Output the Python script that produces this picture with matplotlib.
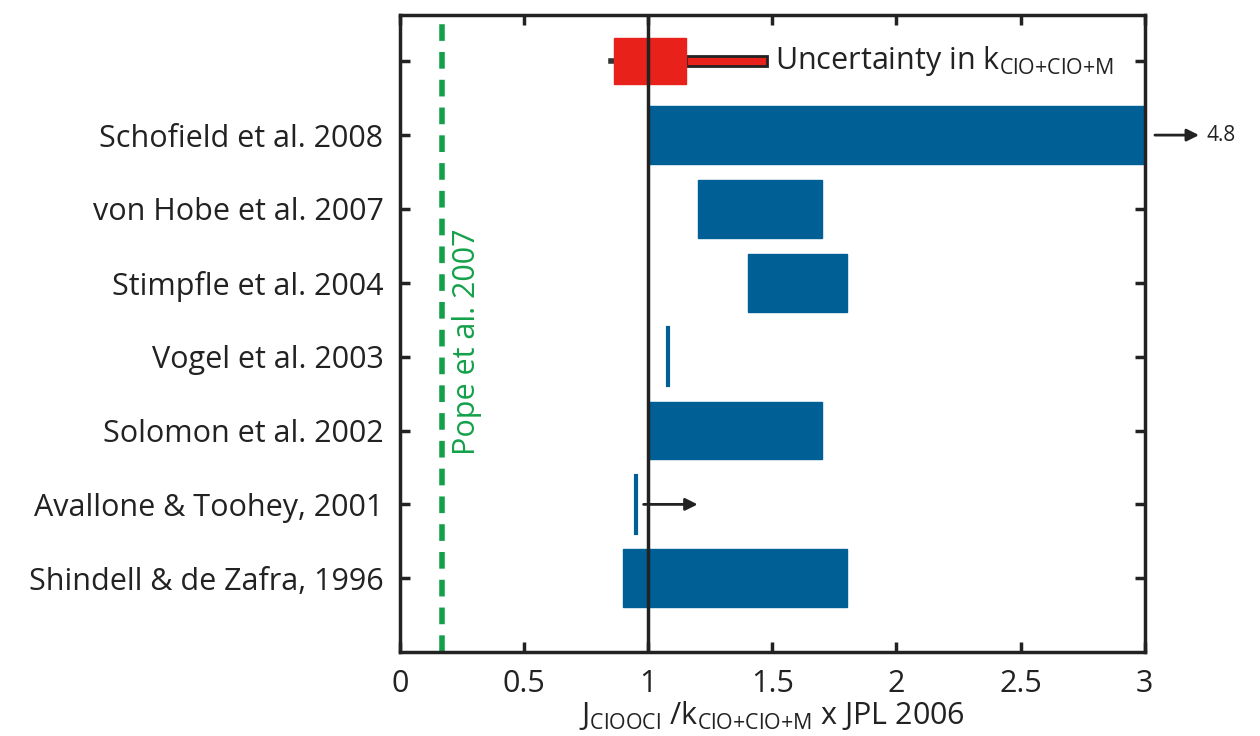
import matplotlib.pyplot as plt
from matplotlib.patches import Rectangle

plt.rcParams['font.family'] = ['Open Sans', 'DejaVu Sans']

studies = ["Shindell & de Zafra, 1996", "Avallone & Toohey, 2001", "Solomon et al. 2002",
           "Vogel et al. 2003", "Stimpfle et al. 2004", "von Hobe et al. 2007",
           "Schofield et al. 2008"]
lows = [0.90, 0.95, 1.00, 1.08, 1.40, 1.20, 1.00]
highs = [1.80, 0.95, 1.70, 1.08, 1.80, 1.70, 3.00]
unc_box = (0.86, 1.15)
unc_tail = (1.15, 1.48)
pope = 0.17
blue = "#005f94"
red = "#e8221a"

fig = plt.figure(figsize=(12.6, 7.36), dpi=100)
ax = fig.add_axes([0.3175, 0.114, 0.591, 0.866])

ys = list(range(1, len(studies) + 1))
for y, lo, hi in zip(ys, lows, highs):
    if hi - lo < 0.01:
        ax.plot([lo, lo], [y - 0.39, y + 0.39], color=blue, lw=3, zorder=2)
    else:
        ax.add_patch(Rectangle((lo, y - 0.39), hi - lo, 0.78, color=blue, zorder=2))

# uncertainty
yu = 8
ax.plot([0.85, unc_box[0]], [yu, yu], color="#333333", lw=4, zorder=2)
ax.add_patch(Rectangle((unc_tail[0], yu - 0.07), unc_tail[1] - unc_tail[0], 0.14,
                       facecolor=red, edgecolor="#222222", lw=2, zorder=3))
ax.add_patch(Rectangle((unc_box[0], yu - 0.31), unc_box[1] - unc_box[0], 0.62,
                       color=red, zorder=4))
ax.text(1.51, yu, "Uncertainty in k$_{\\mathregular{ClO{+}ClO{+}M}}$", fontsize=22,
        va="center", ha="left", color="#222222")

ax.axvline(1.0, color="#222222", lw=2.5, zorder=5)
ax.axvline(pope, color="#14a04a", lw=4, ls=(0, (3, 2)), zorder=1)
ax.text(pope + 0.1, 4.2, "Pope et al. 2007", rotation=90, color="#14a04a",
        fontsize=22, ha="center", va="center")

# arrows
ax.annotate("", xy=(1.21, 2), xytext=(0.97, 2),
            arrowprops=dict(arrowstyle="-|>", color="#222222", lw=2, mutation_scale=18))
ax.annotate("", xy=(3.23, 7), xytext=(3.03, 7), xycoords="data",
            arrowprops=dict(arrowstyle="-|>", color="#222222", lw=2, mutation_scale=18),
            annotation_clip=False)
ax.text(3.25, 7, "4.8", fontsize=15, va="center", ha="left", color="#222222")

ax.set_xlim(0, 3)
ax.set_ylim(0, 8.63)
ax.set_xticks([0, 0.5, 1, 1.5, 2, 2.5, 3])
ax.set_xticklabels(["0", "0.5", "1", "1.5", "2", "2.5", "3"])
ax.set_yticks(ys + [yu])
ax.set_yticklabels(studies + [""])
ax.tick_params(direction="in", length=7, width=2.5, labelsize=22, top=True, right=True,
               colors="#222222", pad=12)
for s in ax.spines.values():
    s.set_linewidth(2.5)
    s.set_color("#222222")
ax.set_xlabel("J$_{\\mathregular{ClOOCl}}$ /k$_{\\mathregular{ClO{+}ClO{+}M}}$ x JPL 2006",
              fontsize=22, labelpad=0, color="#222222")

fig.savefig("out.png", dpi=100)
